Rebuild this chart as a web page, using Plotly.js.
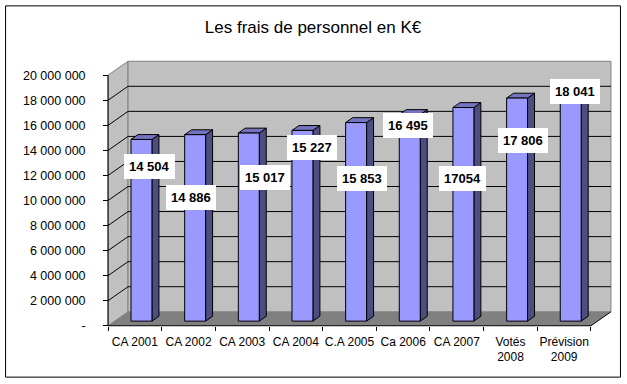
<!DOCTYPE html>
<html><head><meta charset="utf-8">
<script src="https://cdn.plot.ly/plotly-3.0.1.min.js"></script>
<style>html,body{margin:0;padding:0;background:#fff}#chart{width:627px;height:384px}</style>
</head><body><div id="chart"></div>
<script>
// ---- data ----
const categories = ["CA 2001","CA 2002","CA 2003","CA 2004","C.A 2005","Ca 2006","CA 2007","Votés<br>2008","Prévision<br>2009"];
const values = [14504000, 14886000, 15017000, 15227000, 15853000, 16495000, 17054000, 17806000, 18041000];
const valueLabels = ["14 504","14 886","15 017","15 227","15 853","16 495","17054","17 806","18 041"];
const yTickValues = [0, 2000000, 4000000, 6000000, 8000000, 10000000, 12000000, 14000000, 16000000, 18000000, 20000000];
const yTickLabels = ["-","2 000 000","4 000 000","6 000 000","8 000 000","10 000 000","12 000 000","14 000 000","16 000 000","18 000 000","20 000 000"];
const titleText = "Les frais de personnel en K€";

// ---- label placement (layout, in axis units) ----
const labelX = [0.273, 1.037, 2.416, 3.301, 4.242, 5.099, 6.115, 7.242, 8.201];
const labelY = [12.71e6, 10.20e6, 11.87e6, 14.26e6, 11.79e6, 16.02e6, 11.79e6, 14.82e6, 18.69e6];

// ---- geometry ----
const W = 627, H = 384;
const n = categories.length;
const X0 = -0.5, X1 = n - 0.5;
const YMAX = 20000000;
const frontLeftPx = 108, frontRightPx = 591, zeroPx = 326, topPx = 75;
const depthPxX = 20, depthPxY = 14;
const pxPerX = (frontRightPx - frontLeftPx) / n;
const pxPerY = (zeroPx - topPx) / YMAX;
const DX = depthPxX / pxPerX, DY = depthPxY / pxPerY;
const padX = 0.15, padY = 500000;
const xLo = X0 - padX, xHi = X1 + DX + padX;
const yLo = -padY, yHi = YMAX + DY + padY;
const ml = frontLeftPx - padX * pxPerX;
const mr = W - (frontLeftPx + (xHi - X0) * pxPerX);
const mt = topPx - (yHi - YMAX) * pxPerY;
const mb = H - (zeroPx + padY * pxPerY);
const plotW = W - ml - mr, plotH = H - mt - mb;
const f1 = 0.33, f2 = 0.68, BW = 0.39;

const traces = [];
function poly(xs, ys, fill, line, lw) {
  traces.push({type:'scatter', mode: line ? 'lines' : 'none', x: xs, y: ys, fill:'toself', fillcolor: fill,
    line:{color: line || 'rgba(0,0,0,0)', width: lw || 1}, hoverinfo:'skip', showlegend:false});
}
function lines(xs, ys, color, lw) {
  traces.push({type:'scatter', mode:'lines', x: xs, y: ys, line:{color: color, width: lw || 1},
    hoverinfo:'skip', showlegend:false, connectgaps:false});
}
// left wall
poly([X0, X0, X0+DX, X0+DX, X0], [0, YMAX, YMAX+DY, DY, 0], '#C0C0C0', '#808080');
// back wall
poly([X0+DX, X1+DX, X1+DX, X0+DX, X0+DX], [DY, DY, YMAX+DY, YMAX+DY, DY], '#C0C0C0', '#808080');
// floor
poly([X0, X1, X1+DX, X0+DX, X0], [0, 0, DY, DY, 0], '#808080', null);
// gridlines
{
  const gx = [], gy = [];
  yTickValues.forEach(v => {
    if (v === 0 || v === YMAX) return;
    gx.push(X0, X0+DX, X1+DX, null);
    gy.push(v, v+DY, v+DY, null);
  });
  lines(gx, gy, '#000000', 1);
}
// axes lines (front)
lines([X0, X0, null, X0, X1, X1+DX], [YMAX, 0, null, 0, 0, DY], '#000000', 1);

// bars
{
  const fx = [], fy = [], sx = [], sy = [], tx = [], ty = [];
  const ddx = (f2 - f1) * DX, ddy = (f2 - f1) * DY;
  values.forEach((v, i) => {
    const xc = i + f1 * DX;
    const xl = xc - BW/2, xr = xc + BW/2;
    const yb = f1 * DY, yt = v + f1 * DY;
    fx.push(xl, xr, xr, xl, xl, null); fy.push(yb, yb, yt, yt, yb, null);
    sx.push(xr, xr+ddx, xr+ddx, xr, xr, null); sy.push(yb, yb+ddy, yt+ddy, yt, yb, null);
    tx.push(xl, xr, xr+ddx, xl+ddx, xl, null); ty.push(yt, yt, yt+ddy, yt+ddy, yt, null);
  });
  poly(sx, sy, '#4D4D80', '#000000');
  poly(tx, ty, '#7373BF', '#000000');
  poly(fx, fy, '#9999FF', '#000000');
}

const annotations = valueLabels.map((t, i) => ({
  x: labelX[i], y: labelY[i], xref:'x', yref:'y', text: t, showarrow:false,
  font:{family:'Liberation Sans, Arial, sans-serif', size:13, color:'#000', weight:'bold'},
  bgcolor:'#FFFFFF', borderpad:5, borderwidth:0
}));

const px2paperX = px => (px - ml) / plotW;
const px2paperY = py => (H - mb - py) / plotH;

const layout = {
  width: W, height: H,
  margin:{l: ml, r: mr, t: mt, b: mb, pad:0},
  paper_bgcolor:'#FFFFFF', plot_bgcolor:'rgba(0,0,0,0)',
  showlegend:false,
  font:{family:'Liberation Sans, Arial, sans-serif', color:'#000'},
  title:{text: titleText, x: 313/W, xref:'container', xanchor:'center', y: 1 - 27/H, yref:'container', yanchor:'middle',
    font:{family:'Liberation Sans, Arial, sans-serif', size:17, color:'#000'}},
  xaxis:{type:'linear', range:[xLo, xHi], fixedrange:true, showgrid:false, zeroline:false, showline:false,
    tickmode:'array', tickvals: categories.map((c, i) => i), ticktext: categories, ticks:'',
    tickfont:{size:12, color:'#000'}, anchor:'free', position: px2paperY(zeroPx), ticklabelstandoff: 7,
    minor:{tickmode:'array', tickvals: categories.map((c, i) => i - 0.5).concat([X1]), ticks:'outside', ticklen:4, tickcolor:'#000', tickwidth:1, showgrid:false}},
  yaxis:{type:'linear', range:[yLo, yHi], fixedrange:true, showgrid:false, zeroline:false, showline:false,
    tickmode:'array', tickvals: yTickValues, ticktext: yTickLabels, ticks:'outside', ticklen:5, tickcolor:'#000', tickwidth:1,
    tickfont:{size:12.5, color:'#000'}, anchor:'free', position: px2paperX(frontLeftPx), ticklabelstandoff: 15},
  annotations: annotations,
  shapes:[{type:'rect', xref:'paper', yref:'paper', x0: px2paperX(5.5), x1: px2paperX(620.5), y0: px2paperY(377.5), y1: px2paperY(5.5),
    line:{color:'#000', width:1}, fillcolor:'rgba(0,0,0,0)', layer:'above'}]
};

Plotly.newPlot('chart', traces, layout, {staticPlot:true, displayModeBar:false});
</script>
</body></html>
